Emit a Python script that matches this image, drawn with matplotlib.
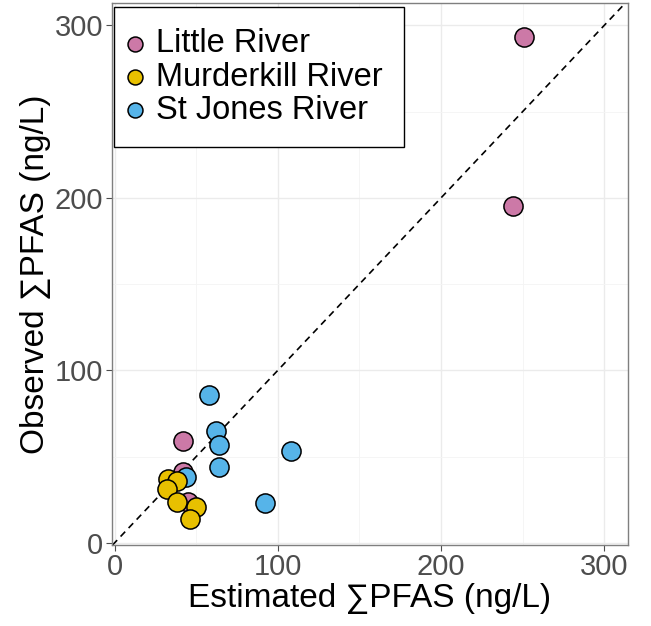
import matplotlib
matplotlib.use("Agg")
import matplotlib.pyplot as plt
from matplotlib.ticker import MultipleLocator

plt.rcParams['font.family'] = ['Liberation Sans', 'DejaVu Sans']

# Estimated vs observed sum PFAS (ng/L) per river
little_est = [251, 244, 42, 42, 45]
little_obs = [293, 195, 59, 41, 24]
stjones_est = [58, 62, 64, 64, 108, 92, 44]
stjones_obs = [86, 65, 57, 44, 53, 23, 38]
murder_est = [33, 38, 32, 38, 50, 46]
murder_obs = [37, 36, 31, 24, 21, 14]

groups = ["Little River", "St Jones River", "Murderkill River"]
colors = {"Little River": "#CC79A7", "Murderkill River": "#E8C000", "St Jones River": "#56B4E9"}
legend_order = ["Little River", "Murderkill River", "St Jones River"]

fig = plt.figure(figsize=(6.51, 6.26), dpi=100)
ax = fig.add_axes([0.1714, 0.1294, 0.7928, 0.8658])

ax.axline((0, 0), slope=1, color='black', linestyle=(0, (4, 3)), linewidth=1.2, zorder=2)

data = {"Little River": (little_est, little_obs),
        "St Jones River": (stjones_est, stjones_obs),
        "Murderkill River": (murder_est, murder_obs)}
handles = {}
for g in groups:
    x, y = data[g]
    handles[g] = ax.scatter(x, y, s=190, c=colors[g], edgecolors='black', linewidths=1.1, zorder=3, label=g)

ax.set_xlim(-1.8, 314.3)
ax.set_ylim(-1.2, 312.9)
ax.xaxis.set_major_locator(MultipleLocator(100))
ax.yaxis.set_major_locator(MultipleLocator(100))
ax.xaxis.set_minor_locator(MultipleLocator(50))
ax.yaxis.set_minor_locator(MultipleLocator(50))
ax.grid(which='major', color='#EBEBEB', linewidth=1.0, zorder=0)
ax.grid(which='minor', color='#F4F4F4', linewidth=0.6, zorder=0)
ax.set_axisbelow(True)
for s in ax.spines.values():
    s.set_color('#7F7F7F')
    s.set_linewidth(1.0)
ax.tick_params(which='major', length=4, color='#4D4D4D', labelsize=21, labelcolor='#4D4D4D', pad=2)
ax.tick_params(which='minor', length=0)

ax.set_xlabel("Estimated ∑PFAS (ng/L)", fontsize=24, labelpad=1)
ax.set_ylabel("Observed ∑PFAS (ng/L)", fontsize=24, labelpad=3)

leg = ax.legend([handles[g] for g in legend_order], legend_order, loc='upper left',
                bbox_to_anchor=(0.0047, 0.9926), fontsize=23.5, markerscale=0.78, handletextpad=0.65,
                labelspacing=0.07, borderpad=0.65, handlelength=0.0, fancybox=False,
                framealpha=1, edgecolor='black', borderaxespad=0)
leg.get_frame().set_linewidth(1.0)

fig.savefig("out.png", dpi=100)
